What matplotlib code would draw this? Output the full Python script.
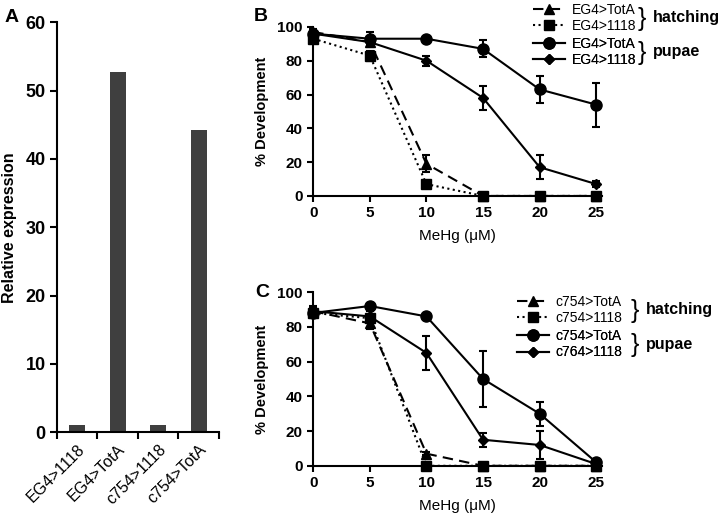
import matplotlib
matplotlib.use('Agg')
import matplotlib.pyplot as plt

plt.rcParams['font.family'] = ['Liberation Sans', 'DejaVu Sans']

# Panel A: relative expression
A_CATS = ['EG4>1118', 'EG4>TotA', 'c754>1118', 'c754>TotA']
A_VALS = [1.0, 52.7, 1.0, 44.3]

# MeHg doses (uM)
DOSE = [0, 5, 10, 15, 20, 25]

# Panel B
B_LABELS = ['EG4>TotA', 'EG4>1118', 'EG4>TotA', 'EG4>1118']
B_HATCH_TOTA = [97, 91, 19, 0, 0, 0]
B_HATCH_TOTA_ERR = [2, 3, 5, 0, 0, 0]
B_HATCH_1118 = [93, 83, 7, 0, 0, 0]
B_HATCH_1118_ERR = [2, 3, 2, 0, 0, 0]
B_PUPAE_TOTA = [96, 93, 93, 87, 63, 54]
B_PUPAE_TOTA_ERR = [2, 4, 1, 5, 8, 13]
B_PUPAE_1118 = [96, 91, 80, 58, 17, 7]
B_PUPAE_1118_ERR = [2, 2, 3, 7, 7, 2]

# Panel C
C_LABELS = ['c754>TotA', 'c754>1118', 'c754>TotA', 'c764>1118']
C_HATCH_TOTA = [89, 82, 7, 0, 0, 0]
C_HATCH_TOTA_ERR = [2, 3, 1, 0, 0, 0]
C_HATCH_1118 = [88, 85, 0, 0, 0, 0]
C_HATCH_1118_ERR = [2, 2, 0, 0, 0, 0]
C_PUPAE_TOTA = [88, 92, 86, 50, 30, 2]
C_PUPAE_TOTA_ERR = [3, 2, 1, 16, 7, 1]
C_PUPAE_1118 = [89, 86, 65, 15, 12, 1]
C_PUPAE_1118_ERR = [3, 3, 10, 4, 8, 1]

BAR_COLOR = '#3f3f3f'
BOLD = dict(fontweight='bold')

fig = plt.figure(figsize=(7.2, 5.17), dpi=100)

# ---------- panel A ----------
axA = fig.add_axes([0.079, 0.164, 0.225, 0.793])
xs = list(range(len(A_CATS)))
axA.bar(xs, A_VALS, width=0.4, color=BAR_COLOR)
axA.set_xlim(-0.5, len(A_CATS) - 0.5)
axA.set_ylim(0, 60)
axA.set_yticks(range(0, 61, 10))
axA.set_xticks([x - 0.5 for x in range(len(A_CATS) + 1)])
axA.set_xticklabels([])
axA.set_xticks(xs, minor=True)
axA.set_xticklabels(A_CATS, minor=True, rotation=45, ha='right',
                    rotation_mode='anchor', fontsize=11.5)
axA.tick_params(axis='x', which='minor', length=0, pad=7)
axA.tick_params(axis='x', which='major', length=5, width=1.5)
axA.tick_params(axis='y', length=5, width=1.5, labelsize=13, pad=3)
for lab in axA.get_yticklabels():
    lab.set_fontweight('bold')
axA.set_ylabel('Relative expression', fontsize=11.5, labelpad=6, **BOLD)
for s in ['top', 'right']:
    axA.spines[s].set_visible(False)
for s in ['left', 'bottom']:
    axA.spines[s].set_linewidth(1.5)
fig.text(0.006, 0.958, 'A', fontsize=14, **BOLD)


def dose_panel(rect, series, labels, leg_x, leg_tops, brace_x, letter, letter_xy):
    ax = fig.add_axes(rect)
    styles = [
        dict(ls=(0, (5, 3)), marker='^', ms=7),
        dict(ls=':', marker='s', ms=7.5),
        dict(ls='-', marker='o', ms=8),
        dict(ls='-', marker='D', ms=5),
    ]
    handles = []
    for (vals, errs), st, lab in zip(series, styles, labels):
        ax.errorbar(DOSE, vals, yerr=errs, fmt='none', ecolor='black',
                    capsize=3, elinewidth=1.5, capthick=1.5, clip_on=False)
        h, = ax.plot(DOSE, vals, color='black', lw=1.5, mfc='black',
                     mec='black', label=lab, clip_on=False, **st)
        handles.append(h)
    ax.set_xlim(0, 25.5)
    ax.set_ylim(0, 100)
    ax.set_xticks(DOSE)
    ax.set_yticks(range(0, 101, 20))
    ax.tick_params(length=4, width=1.5, labelsize=11)
    for lab in ax.get_xticklabels() + ax.get_yticklabels():
        lab.set_fontweight('bold')
    ax.set_xlabel('MeHg (\u03bcM)', fontsize=11, labelpad=6)
    ax.set_ylabel('% Development', fontsize=10.5, labelpad=6, **BOLD)
    for s in ['top', 'right']:
        ax.spines[s].set_visible(False)
    for s in ['left', 'bottom']:
        ax.spines[s].set_linewidth(1.5)
    groups = [('hatching', handles[:2]), ('pupae', handles[2:])]
    for (word, hs), top in zip(groups, leg_tops):
        leg = ax.legend(handles=hs, loc='upper left', bbox_to_anchor=(leg_x, top),
                        bbox_transform=fig.transFigure, frameon=False,
                        fontsize=10, handlelength=2.3, handletextpad=0.5,
                        labelspacing=0.15, borderpad=0, borderaxespad=0)
        ax.add_artist(leg)
        fig.text(brace_x, top - 0.031, '}', fontsize=18, va='center')
        fig.text(brace_x + 0.021, top - 0.029, word, fontsize=11.5,
                 va='center', **BOLD)
    fig.text(letter_xy[0], letter_xy[1], letter, fontsize=14, **BOLD)
    return ax


dose_panel([0.435, 0.621, 0.401, 0.327],
           [(B_HATCH_TOTA, B_HATCH_TOTA_ERR), (B_HATCH_1118, B_HATCH_1118_ERR),
            (B_PUPAE_TOTA, B_PUPAE_TOTA_ERR), (B_PUPAE_1118, B_PUPAE_1118_ERR)],
           B_LABELS, 0.740, (0.995, 0.929), 0.886, 'B', (0.353, 0.96))

dose_panel([0.435, 0.099, 0.401, 0.336],
           [(C_HATCH_TOTA, C_HATCH_TOTA_ERR), (C_HATCH_1118, C_HATCH_1118_ERR),
            (C_PUPAE_TOTA, C_PUPAE_TOTA_ERR), (C_PUPAE_1118, C_PUPAE_1118_ERR)],
           C_LABELS, 0.718, (0.430, 0.363), 0.876, 'C', (0.355, 0.425))

fig.savefig('out.png', dpi=100)
